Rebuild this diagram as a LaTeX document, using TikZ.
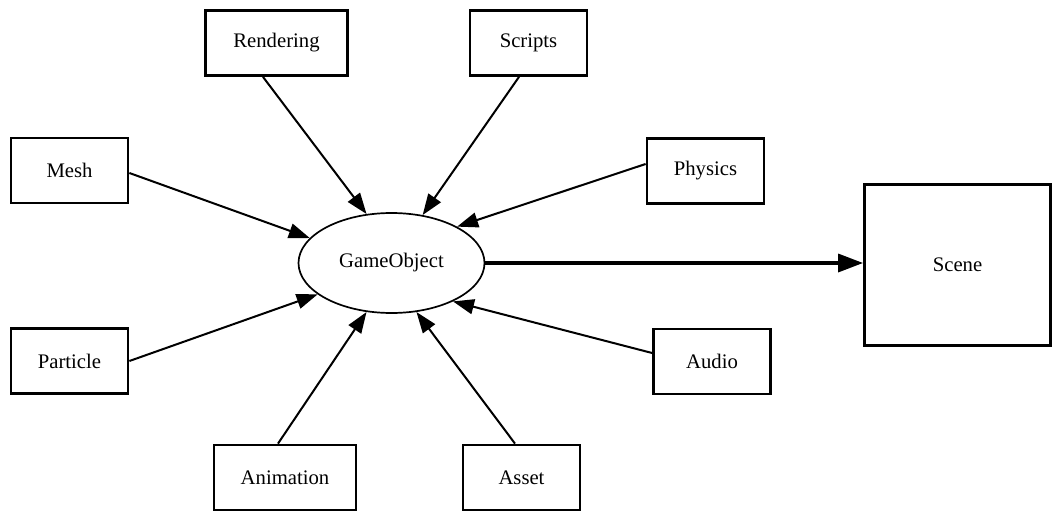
\documentclass[tikz,border=0pt]{standalone}
\usepackage{fontspec}
\setmainfont{Liberation Serif}
\usetikzlibrary{shapes.geometric,arrows.meta}
\begin{document}
\begin{tikzpicture}[x=1pt,y=-1pt,
  every node/.style={font=\fontsize{20.7}{24}\selectfont, inner sep=0pt},
  comp/.style={draw, line width=2.8pt, rectangle, minimum width=117pt, minimum height=65pt},
  wide/.style={comp, minimum width=142pt},
  obj/.style={draw, line width=1.7pt, ellipse, minimum width=186pt, minimum height=100pt},
  feed/.style={line width=2pt, -{Triangle[length=21pt,width=15pt]}},
  tosceneedge/.style={line width=3.4pt, -{Triangle[length=25pt,width=18pt]}}
]
\useasboundingbox (0,0) rectangle (1054,511);

% central object and the scene it belongs to
\node[obj] (go) at (391.5,263) {GameObject};
\node[comp, minimum width=186pt, minimum height=161pt] (scene) at (957.5,265) {Scene};

% components
\node[wide] (ren)   at (276.5,43)  {Rendering};
\node[comp] (scr)   at (528.5,43)  {Scripts};
\node[comp] (mesh)  at (69.5,170.5) {Mesh};
\node[comp] (phys)  at (705.5,171) {Physics};
\node[comp] (part)  at (69.5,361)  {Particle};
\node[comp] (audio) at (712,361.5) {Audio};
\node[wide] (anim)  at (285,477.5) {Animation};
\node[comp] (asset) at (521.5,477.5) {Asset};

% components feed into the object
\draw[feed] ([xshift=-13.5pt]ren.south) -- (go.117.7);
\draw[feed] ([xshift=-9.5pt]scr.south) -- (go.57.5);
\draw[feed] ([yshift=-2.5pt]mesh.east) -- (go.163.6);
\draw[feed] ([yshift=7pt]phys.west) -- (go.29.4);
\draw[feed] (part.east) -- (go.203.6);
\draw[feed] ([yshift=8.5pt]audio.west) -- (go.328.9);
\draw[feed] ([xshift=-7pt]anim.north) -- (go.243.7);
\draw[feed] ([xshift=-6.5pt]asset.north) -- (go.297.9);

% object goes into the scene
\draw[tosceneedge] (go.east) -- (go.east -| scene.west);
\end{tikzpicture}
\end{document}
